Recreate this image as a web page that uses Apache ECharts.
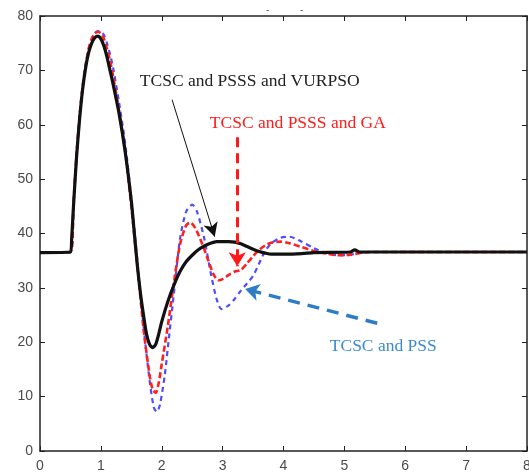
<!DOCTYPE html>
<html><head><meta charset="utf-8">
<script src="https://cdn.jsdelivr.net/npm/echarts@6/dist/echarts.min.js"></script>
<style>html,body{margin:0;padding:0;background:#fff;overflow:hidden}#c{width:529px;height:473px}</style>
</head><body><div id="c"></div>
<script>
// Time (s) and response values
const vurpsoX = [0,0.5,0.52,0.55,0.6,0.65,0.7,0.75,0.8,0.85,0.9,0.95,1.0,1.05,1.1,1.15,1.2,1.3,1.4,1.5,1.55,1.6,1.65,1.7,1.75,1.8,1.85,1.9,1.95,2.0,2.1,2.2,2.3,2.4,2.5,2.6,2.7,2.8,2.9,3.0,3.1,3.2,3.3,3.4,3.5,3.6,3.7,3.8,4.0,4.3,4.5,5.1,5.17,5.25,8];
const vurpsoY = [36.5,36.6,39,45,54,61,66.5,70.5,73.3,75,76,76.3,75.8,74.5,72.5,70,67.5,62,55,46,40,34,29,25,21.5,19.6,19,19.6,21.5,23.8,27.5,30.5,33,34.8,36,37,37.7,38.2,38.5,38.5,38.5,38.4,38.1,37.6,37.1,36.7,36.4,36.2,36.2,36.3,36.5,36.6,37.0,36.6,36.6];

const gaX = [0,0.5,0.55,0.6,0.65,0.7,0.75,0.8,0.85,0.9,0.95,1.0,1.05,1.1,1.15,1.2,1.3,1.4,1.5,1.6,1.7,1.8,1.85,1.9,1.95,2.0,2.1,2.2,2.3,2.4,2.47,2.55,2.65,2.75,2.85,2.93,3.0,3.1,3.2,3.3,3.4,3.5,3.6,3.7,3.8,3.95,4.1,4.3,4.5,4.7,4.9,5.1,5.3,5.5,8];
const gaY = [36.5,36.6,45.5,54.5,61.5,67,71,74,75.8,76.8,77.1,76.8,75.8,74,71.8,69,62.5,55,45,34,22.5,14,11.3,10.7,12.5,16,23,31,38,41.5,42,41,38.5,35.5,32.5,31.4,31.6,32.4,33,33.3,34.5,35.8,37,37.8,38.3,38.5,38.2,37.5,36.8,36.3,36,36.1,36.5,36.6,36.6];

const pssX = [0,0.5,0.55,0.6,0.65,0.7,0.75,0.8,0.85,0.9,0.95,1.0,1.05,1.1,1.15,1.2,1.3,1.4,1.5,1.6,1.7,1.8,1.87,1.92,1.97,2.05,2.1,2.2,2.3,2.4,2.5,2.58,2.7,2.8,2.9,2.98,3.1,3.2,3.3,3.4,3.5,3.6,3.7,3.8,3.95,4.1,4.3,4.5,4.7,4.9,5.1,5.4,8];
const pssY = [36.5,36.6,45,54,61.5,67,71,74,75.8,76.8,77.2,77.2,76.5,75,73,70.5,64,56.5,46.5,35,23,13,8,7.2,8.5,14,19,29,39,44,45.3,44,39,33,28,26.1,26.8,28,29.5,30.8,32.2,34.5,36.8,38.2,39.2,39.4,38.5,37.3,36.4,36,36.1,36.6,36.6];

const annoTexts = ['TCSC and PSSS and VURPSO', 'TCSC and PSSS and GA', 'TCSC and PSS'];

const pair = (xs, ys) => xs.map((x, i) => [x, ys[i]]);

const chart = echarts.init(document.getElementById('c'), null, {renderer: 'canvas', width: 529, height: 473});
const axisLine = {show: true, onZero: false, lineStyle: {color: '#222', width: 1.5}};
const tickIn = {show: true, inside: true, length: 5, lineStyle: {color: '#222', width: 1}};
const lbl = {color: '#4a4a4a', fontFamily: 'Liberation Sans', fontSize: 14};
const serif = 'Liberation Serif';

chart.setOption({
  animation: false,
  title: {text: '-           -', left: 261, top: 0, textStyle: {fontSize: 10, color: '#555', fontWeight: 'normal'}},
  grid: {left: 40, right: 2, top: 16, bottom: 22, containLabel: false, outerBoundsMode: 'none'},
  xAxis: [
    {type: 'value', min: 0, max: 8, interval: 1, axisLine, axisTick: tickIn, splitLine: {show: false},
     axisLabel: Object.assign({margin: 8}, lbl)},
    {type: 'value', position: 'top', min: 0, max: 8, interval: 1, axisLine, axisTick: tickIn, splitLine: {show: false},
     axisLabel: {show: false}}
  ],
  yAxis: [
    {type: 'value', min: 0, max: 80, interval: 10, axisLine, axisTick: tickIn, splitLine: {show: false},
     axisLabel: Object.assign({margin: 7}, lbl)},
    {type: 'value', position: 'right', min: 0, max: 80, interval: 10, axisLine, axisTick: tickIn, splitLine: {show: false},
     axisLabel: {show: false}}
  ],
  series: [
    {type: 'line', name: 'TCSC and PSS', data: pair(pssX, pssY), showSymbol: false, smooth: 0.25,
     lineStyle: {color: '#4d4dff', width: 2.2, type: [5, 4]},
     markLine: {silent: true, animation: false, label: {show: false},
       lineStyle: {color: '#2e7bc6', width: 3.5, type: [12, 8]},
       data: [[{coord: [5.54, 23.5], symbol: 'none'}, {coord: [3.37, 29.8], symbol: 'arrow', symbolSize: [13, 14]}]]},
     markPoint: {silent: true, symbol: 'rect', symbolSize: 0,
       label: {show: true, position: 'right', distance: 0, formatter: annoTexts[2], color: '#3a8ad0', fontFamily: serif, fontSize: 17.5},
       data: [{coord: [4.76, 19.3]}]}
    },
    {type: 'line', name: 'TCSC and PSSS and GA', data: pair(gaX, gaY), showSymbol: false, smooth: 0.25,
     lineStyle: {color: '#ff1f1f', width: 2.6, type: [6, 3]},
     markLine: {silent: true, animation: false, label: {show: false},
       lineStyle: {color: '#ff1a1a', width: 3, type: [10, 6]},
       data: [[{coord: [3.24, 57.7], symbol: 'none'}, {coord: [3.24, 34.0], symbol: 'arrow', symbolSize: [13, 14]}]]},
     markPoint: {silent: true, symbol: 'rect', symbolSize: 0,
       label: {show: true, position: 'right', distance: 0, formatter: annoTexts[1], color: '#ff1a1a', fontFamily: serif, fontSize: 17.5},
       data: [{coord: [2.79, 60.3]}]}
    },
    {type: 'line', name: 'TCSC and PSSS and VURPSO', data: pair(vurpsoX, vurpsoY), showSymbol: false, smooth: 0.25,
     lineStyle: {color: '#111', width: 3.2},
     markLine: {silent: true, animation: false, label: {show: false},
       lineStyle: {color: '#111', width: 1, type: 'solid'},
       data: [[{coord: [2.17, 64.6], symbol: 'none'}, {coord: [2.87, 39.4], symbol: 'arrow', symbolSize: [11, 14]}]]},
     markPoint: {silent: true, symbol: 'rect', symbolSize: 0,
       label: {show: true, position: 'right', distance: 0, formatter: annoTexts[0], color: '#222', fontFamily: serif, fontSize: 17.5},
       data: [{coord: [1.64, 67.9]}]}
    }
  ]
});
</script></body></html>
